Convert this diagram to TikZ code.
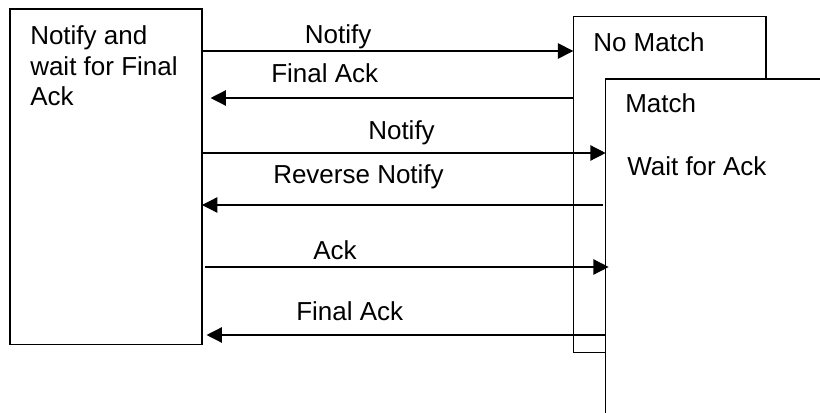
\documentclass[tikz,border=0pt]{standalone}
\usepackage{fontspec}
\setmainfont{Liberation Sans}
\usetikzlibrary{arrows.meta}
\begin{document}
\begin{tikzpicture}[x=0.75pt,y=-0.75pt,
  box/.style={draw,line width=1pt,rectangle,inner sep=0pt,outer sep=0pt,anchor=north west},
  lbl/.style={anchor=base west,inner sep=0pt,font=\fontsize{19.5}{23.1}\selectfont},
  msg/.style={line width=1pt,-{Triangle[length=11.5pt,width=11.5pt]}}]
\useasboundingbox (0,0) rectangle (820,413);
\clip (0,0) rectangle (820,413);
% boxes
\node[box,minimum width=144pt,minimum height=251.6pt] (L) at (10,9) {};
\node[box,minimum width=144.5pt,minimum height=252pt] (NM) at (573.3,16.7) {};
\node[box,fill=white,minimum width=180pt,minimum height=270pt] (M) at (605.7,79) {};
% box texts
\node[lbl,align=left] (lt) at (30,106) {Notify and\\wait for Final\\Ack};
\node[lbl] (nmt) at (593,51.7) {No Match};
\node[lbl] (mt) at (625,113) {Match};
\node[lbl] (wt) at (627,175.7) {Wait for Ack};
% rows
\coordinate (r1) at (0,51);
\coordinate (r2) at (0,98);
\coordinate (r3) at (0,153);
\coordinate (r4) at (0,205);
\coordinate (r5) at (0,267);
\coordinate (r6) at (0,335);
% messages
\draw[msg] (L.east |- r1) -- (NM.west |- r1);
\draw[msg,shorten >=6.4pt] (NM.west |- r2) -- (L.east |- r2);
\draw[msg] (L.east |- r3) -- (M.west |- r3);
\draw[msg,shorten <=2.25pt] (M.west |- r4) -- (L.east |- r4);
\draw[msg,shorten <=2.25pt,shorten >=-2.25pt] (L.east |- r5) -- (M.west |- r5);
\draw[msg,shorten >=3.4pt] (M.west |- r6) -- (L.east |- r6);
% labels
\node[lbl] (m1) at (304.7,44) {Notify};
\node[lbl] (m2) at (271,82.7) {Final Ack};
\node[lbl] (m3) at (368,139.3) {Notify};
\node[lbl] (m4) at (273,183.3) {Reverse Notify};
\node[lbl] (m5) at (313,259) {Ack};
\node[lbl] (m6) at (296,320.7) {Final Ack};
\end{tikzpicture}
\end{document}
